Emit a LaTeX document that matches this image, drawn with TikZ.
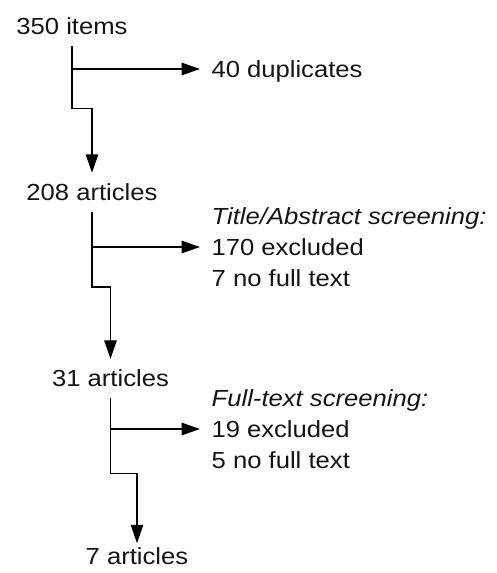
\documentclass[tikz,border=0pt]{standalone}
\usepackage{fontspec}
\setmainfont{Liberation Sans}[FakeStretch=1.1]
\usetikzlibrary{arrows.meta}
\begin{document}
\begin{tikzpicture}[x=1pt,y=-1pt,
  txt/.style={font=\fontsize{23.3}{30}\selectfont, inner sep=0pt, text height=16.5pt, text depth=0pt, text=black!92},
  lbl/.style={txt, outer sep=11.5pt},
  side/.style={txt, anchor=base west},
  conn/.style={line width=1.5pt, draw=black},
  arr/.style={conn, -{Triangle[length=18.5pt,width=12.5pt]}}]
\useasboundingbox (0,0) rectangle (496,573);
% main column
\node[lbl] (n350) at (72,25.75) {350 items};
\node[lbl] (n208) at (92,192.5) {208 articles};
\node[lbl] (n31) at (110.5,378.5) {31 articles};
\node[txt, outer sep=4.5pt] (n7) at (137,556) {7 articles};
% side texts
\node[lbl, anchor=west] (e40) at (200,69) {40 duplicates};
\node[side] (h1) at (211.5,224) {\itshape Title/Abstract screening:};
\node[lbl, anchor=west] (e170) at (200,247) {170 excluded};
\node[side] (f1) at (211.5,286) {7 no full text};
\node[side] (h2) at (211.5,406) {\itshape Full-text screening:};
\node[lbl, anchor=west] (e19) at (200,429) {19 excluded};
\node[side] (f2) at (211.5,468) {5 no full text};
% connectors
\draw[arr] (n350.south) -- ++(0,63) -| (n208.north);
\draw[arr] (n350.south |- e40.west) -- (e40.west);
\draw[arr] (n208.south) -- ++(0,74.5) -| (n31.north);
\draw[arr] (n208.south |- e170.west) -- (e170.west);
\draw[arr] (n31.south) -- ++(0,75) -| (n7.north);
\draw[arr] (n31.south |- e19.west) -- (e19.west);
\end{tikzpicture}
\end{document}
